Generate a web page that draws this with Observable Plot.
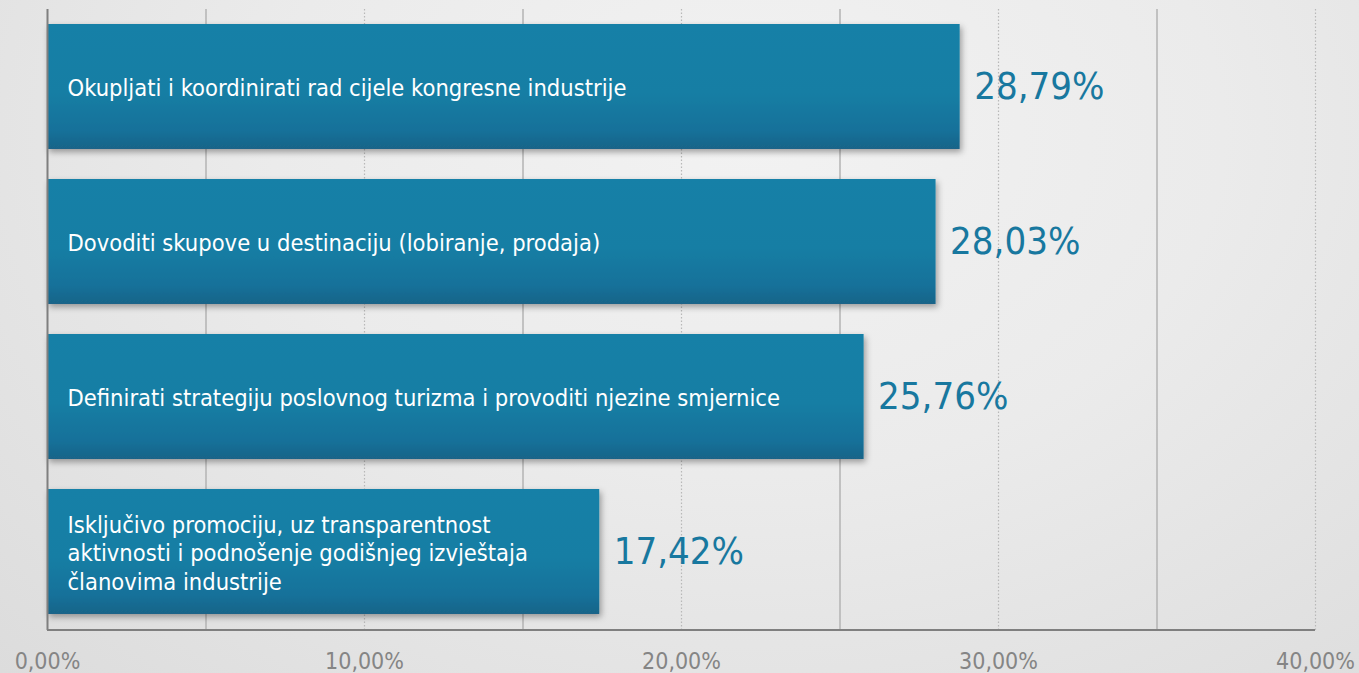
<!DOCTYPE html>
<html>
<head>
<meta charset="utf-8">
<script src="https://cdn.jsdelivr.net/npm/d3@7"></script>
<script src="https://cdn.jsdelivr.net/npm/@observablehq/plot@0.6"></script>
<style>
  html, body { margin: 0; padding: 0; }
  body {
    width: 1359px; height: 673px; overflow: hidden;
    background: radial-gradient(ellipse at 55% 20%, #f2f2f2 0%, #ebebeb 45%, #dcdcdc 100%);
    font-family: "DejaVu Sans Condensed", "DejaVu Sans", sans-serif;
  }
  #chart svg { display: block; background: transparent; }
</style>
</head>
<body>
<div id="chart"></div>
<script>
const categories = [
  "Okupljati i koordinirati rad cijele kongresne industrije",
  "Dovoditi skupove u destinaciju (lobiranje, prodaja)",
  "Definirati strategiju poslovnog turizma i provoditi njezine smjernice",
  "Isključivo promociju, uz transparentnost\naktivnosti i podnošenje godišnjeg izvještaja\nčlanovima industrije"
];
const values = [28.79, 28.03, 25.76, 17.42];
const valueLabels = ["28,79%", "28,03%", "25,76%", "17,42%"];
const tickValues = [0, 10, 20, 30, 40];
const tickLabels = ["0,00%", "10,00%", "20,00%", "30,00%", "40,00%"];
const solidGrid = [5, 15, 25, 35];
const dottedGrid = [10, 20, 30, 40];

const rows = categories.map((c, i) => ({cat: c, value: values[i], label: valueLabels[i]}));
const FONT = "'DejaVu Sans Condensed', 'DejaVu Sans', sans-serif";

const defs = () => {
  const ns = "http://www.w3.org/2000/svg";
  const d = document.createElementNS(ns, "defs");
  d.innerHTML = `
    <linearGradient id="barGrad" x1="0" y1="0" x2="0" y2="1">
      <stop offset="0" stop-color="#1380a7"/>
      <stop offset="0.55" stop-color="#127ea4"/>
      <stop offset="0.85" stop-color="#15719a"/>
      <stop offset="1" stop-color="#1a6488"/>
    </linearGradient>
    <filter id="barShadow" x="-5%" y="-10%" width="115%" height="130%">
      <feDropShadow dx="2" dy="3" stdDeviation="3" flood-color="#000" flood-opacity="0.35"/>
    </filter>`;
  return d;
};

// bottom axis line drawn through the x scale
const bottomLine = (index, scales, values, dims) => {
  const ns = "http://www.w3.org/2000/svg";
  const l = document.createElementNS(ns, "line");
  const yb = dims.height - dims.marginBottom;
  l.setAttribute("x1", scales.x(0));
  l.setAttribute("x2", scales.x(40));
  l.setAttribute("y1", yb);
  l.setAttribute("y2", yb);
  l.setAttribute("stroke", "#7f7f7f");
  l.setAttribute("stroke-width", 2);
  return l;
};

const chart = Plot.plot({
  width: 1359,
  height: 673,
  marginLeft: 47,
  marginRight: 44,
  marginTop: 9,
  marginBottom: 43,
  style: {background: "transparent", fontFamily: FONT},
  x: {domain: [0, 40], label: null},
  y: {domain: categories, paddingInner: 0.193, paddingOuter: 0.0966, axis: null},
  marks: [
    defs,
    Plot.ruleX(solidGrid, {stroke: "#b3b3b3", strokeWidth: 1.5}),
    Plot.ruleX(dottedGrid, {stroke: "#b8b8b8", strokeWidth: 1.2, strokeDasharray: "1.5,2"}),
    Plot.barX(rows, {x: "value", y: "cat", fill: "url(#barGrad)",
      render: (index, scales, values, dims, ctx, next) => {
        const g = next(index, scales, values, dims, ctx);
        g.setAttribute("filter", "url(#barShadow)");
        return g;
      }}),
    Plot.text(rows, {x: 0, y: "cat", text: "cat", dx: 20, textAnchor: "start", fill: "white", fontSize: 23.5, lineHeight: 1.21, fontFamily: FONT}),
    Plot.text(rows, {x: "value", y: "cat", text: "label", dx: 14, textAnchor: "start", fill: "#18789f", fontSize: 38, fontFamily: FONT}),
    Plot.ruleX([0], {stroke: "#7f7f7f", strokeWidth: 2}),
    bottomLine,
    Plot.axisX({ticks: tickValues, tickFormat: (d) => tickLabels[tickValues.indexOf(d)], tickSize: 0, tickPadding: 22, fontSize: 23, color: "#858585", anchor: "bottom", label: null, fontFamily: FONT})
  ]
});
document.getElementById("chart").appendChild(chart);
</script>
</body>
</html>
